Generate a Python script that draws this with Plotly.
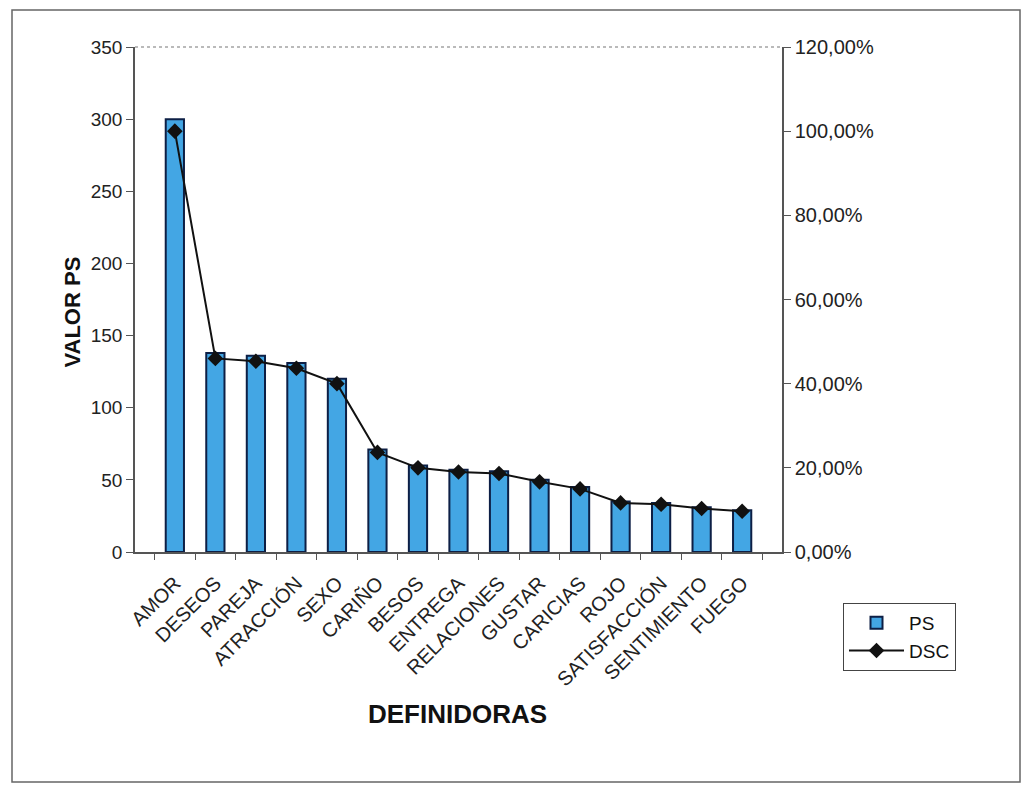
import plotly.graph_objects as go

categories = ["AMOR", "DESEOS", "PAREJA", "ATRACCIÓN", "SEXO", "CARIÑO", "BESOS",
              "ENTREGA", "RELACIONES", "GUSTAR", "CARICIAS", "ROJO", "SATISFACCIÓN",
              "SENTIMIENTO", "FUEGO"]
ps_values = [300, 138, 136, 131, 120, 71, 60, 57, 56, 50, 45, 35, 34, 31, 29]
dsc_values = [1.00, 0.46, 0.4533, 0.4367, 0.40, 0.2367, 0.20, 0.19, 0.1867,
              0.1667, 0.15, 0.1167, 0.1133, 0.1033, 0.0967]
left_ticks = [0, 50, 100, 150, 200, 250, 300, 350]
right_ticks = [0, 0.2, 0.4, 0.6, 0.8, 1.0, 1.2]
right_labels = ["0,00%", "20,00%", "40,00%", "60,00%", "80,00%", "100,00%", "120,00%"]

# page body has an 8px margin; work in figure pixels = screen pixels - 8
OFF = 8
W, H = 1031 - 2 * OFF, 792 - 2 * OFF
L, R, T, B = 135 - OFF, 782 - OFF, 47 - OFF, 552 - OFF

fig = go.Figure()
fig.add_trace(go.Bar(
    x=categories, y=ps_values, name="PS",
    marker=dict(color="#43a6e4", line=dict(color="#0d1f45", width=2)),
    width=0.45,
))
fig.add_trace(go.Scatter(
    x=categories, y=dsc_values, name="DSC", yaxis="y2",
    mode="lines+markers",
    line=dict(color="#111111", width=2),
    marker=dict(symbol="diamond", size=12, color="#111111"),
))

font_family = "Liberation Sans, Arial, sans-serif"

def px_x(p):
    return (p - OFF - L) / (R - L)

def px_y(p):
    return (B - (p - OFF)) / (B - T)

fig.update_layout(
    width=W, height=H,
    margin=dict(l=L, r=W - R, t=T, b=H - B, pad=0),
    paper_bgcolor="white", plot_bgcolor="white",
    font=dict(family=font_family, size=19, color="#222222"),
    xaxis=dict(
        type="category",
        tickangle=-45,
        ticks="outside", ticklen=6, tickcolor="#555555",
        tickson="boundaries",
        ticklabelstandoff=10,
        showline=True, linecolor="#555555", linewidth=1.5,
        tickfont=dict(size=20, family=font_family, color="#222222"),
        showgrid=False,
    ),
    yaxis=dict(
        range=[0, 350], tickvals=left_ticks,
        ticks="outside", ticklen=7, tickcolor="#555555",
        showline=True, linecolor="#555555", linewidth=1.5,
        showgrid=False, zeroline=False,
        tickfont=dict(size=19, family=font_family, color="#222222"),
    ),
    yaxis2=dict(
        range=[0, 1.2], overlaying="y", side="right",
        tickvals=right_ticks, ticktext=right_labels,
        ticks="outside", ticklen=7, tickcolor="#555555",
        showline=True, linecolor="#555555", linewidth=1.5,
        showgrid=False, zeroline=False,
        tickfont=dict(size=20, family=font_family, color="#222222"),
    ),
    showlegend=True,
    legend=dict(
        x=px_x(843), y=px_y(603), xanchor="left", yanchor="top",
        bordercolor="#444444", borderwidth=1, bgcolor="white",
        font=dict(size=19, family=font_family, color="#111111"),
        itemwidth=55, tracegroupgap=2,
    ),
)

# axis titles
fig.add_annotation(text="<b>DEFINIDORAS</b>", xref="paper", yref="paper",
                   x=px_x(457), y=px_y(731), showarrow=False,
                   font=dict(size=26, family=font_family, color="#111111"))
fig.add_annotation(text="<b>VALOR PS</b>", xref="paper", yref="paper",
                   x=px_x(57), y=px_y(312), showarrow=False, textangle=-90,
                   font=dict(size=22, family=font_family, color="#111111"))

# top border of plot area (dotted) and outer frame
fig.add_shape(type="line", xref="paper", yref="paper", x0=0, x1=1, y0=1, y1=1,
              line=dict(color="#777777", width=1.2, dash="dot"))
fig.add_shape(type="rect", xref="paper", yref="paper",
              x0=px_x(12), x1=px_x(1020), y0=px_y(782), y1=px_y(10),
              line=dict(color="#666666", width=1.5), fillcolor="rgba(0,0,0,0)", layer="below")

fig.write_html("out.html")
